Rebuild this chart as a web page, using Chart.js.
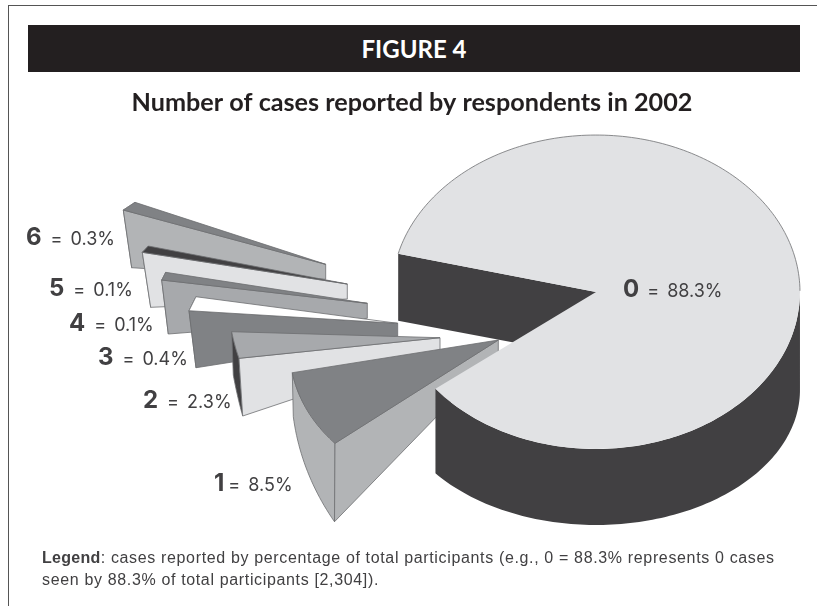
<!DOCTYPE html>
<html><head><meta charset="utf-8">
<script src="https://cdn.jsdelivr.net/npm/chart.js@4"></script>
<style>
html,body{margin:0;padding:0;background:#fff;overflow:hidden}
#stage{position:relative;width:817px;height:606px}
#chart{position:absolute;left:0;top:0;display:block}
#frame{position:absolute;left:8px;top:5px;right:0;bottom:0;border-left:1.5px solid #555;border-top:1.5px solid #555}
#banner{position:absolute;left:28px;top:25px;width:772px;height:47px;background:#231f20;color:#fff;
 font:700 24px/47px Lato,sans-serif;text-align:center}
#legend{position:absolute;left:42px;top:547px;margin:0;color:#414042;font:16px/22px "Liberation Sans",sans-serif;letter-spacing:.65px;white-space:nowrap}
#legend b{letter-spacing:.3px}
</style></head>
<body><div id="stage">
<div id="frame"></div>
<div id="banner">FIGURE 4</div>
<canvas id="chart" width="817" height="606"></canvas>
<p id="legend"><b>Legend</b>: cases reported by percentage of total participants (e.g., 0 = 88.3% represents 0 cases<br>seen by 88.3% of total participants [2,304]).</p>
</div>
<script>
// ---- data ----
const caseCounts = ['0','1','2','3','4','5','6'];
const percentOfRespondents = [88.3, 8.5, 2.3, 0.4, 0.1, 0.1, 0.3];

// ---- styles ----
const topColors  = ['#e1e2e4','#808285','#a7a9ac','#ffffff','#808285','#414042','#808285'];
const sideColors = ['#414042','#b2b4b6','#e1e2e4','#808285','#a7a9ac','#e1e2e4','#b2b4b6'];
const rimColors  = ['#414042','#b2b4b6','#414042','#808285','#a7a9ac','#e1e2e4','#b2b4b6'];
const edgeColor = '#6d6e71';

// ---- 3-D view: how the library's flat arcs are projected on the page ----
const pieShiftX = 184;      // the pie sits right of the chart's centre
const tiltX = 204 / 157;    // horizontal stretch of the top face
const mainWall = {inner:67, tip:66, rimMean:98, rimSquash:22};
// exploded slices: tip relative to the pie centre, rim ends relative to the tip, wall heights
const explodedView = [
  null,
  {tip:[-97.7,48],   s:[-163.3,103.3], e:[-206,32.7],    dt:[0,13],   ds:[-0.5,78.4], de:[1,44]},
  {tip:[-156,45.7],  s:[-201,20.6],    e:[-208.3,-6],    dt:[0,12.3], ds:[3.7,57.7],  de:[1.6,43.3]},
  {tip:[-198.3,31.3],s:[-208.7,-12.6], e:[-201.7,-26.6], dt:[0,12.7], ds:[7,57],      de:[7,57]},
  {tip:[-228.7,11.3],s:[-205.6,-23.3], e:[-201.6,-31],   dt:[0,15],   ds:[6.6,54],    de:[6.6,54]},
  {tip:[-248.7,-8],  s:[-205,-31.7],   e:[-199,-38],     dt:[0,15],   ds:[8.4,55],    de:[8.4,55]},
  {tip:[-270.3,-27.7],s:[-202.4,-54.3],e:[-190.7,-62],   dt:[0,15],   ds:[8.4,57.7],  de:[8.4,57.7]}
];
const labelAnchors = [[623,290],[214,484],[143,401],[98,358],[69,324],[49,289],[26,238]];
const labelGaps = [8,4,9,9,9,9,9];

function viewOf(i, arc){
  const cx = arc.x + pieShiftX, cy = arc.y, R = arc.outerRadius;
  const th0 = arc.startAngle, th1 = arc.endAngle;
  if (i === 0) return {T:[cx,cy], a:R*tiltX, b:0, c:0, d:R, th0, th1, main:true,
    dt:[0,mainWall.tip], ds:[0,mainWall.inner], de:[0,mainWall.inner]};
  const v = explodedView[i];
  const c0=Math.cos(th0), s0=Math.sin(th0), c1=Math.cos(th1), s1=Math.sin(th1);
  const det = c0*s1 - c1*s0;
  return {T:[cx+v.tip[0], cy+v.tip[1]],
    a:(v.s[0]*s1 - v.e[0]*s0)/det, b:(c0*v.e[0] - c1*v.s[0])/det,
    c:(v.s[1]*s1 - v.e[1]*s0)/det, d:(c0*v.e[1] - c1*v.s[1])/det,
    th0, th1, dt:v.dt, ds:v.ds, de:v.de};
}
function rimPoints(w, n){
  const pts = [];
  for (let k=0;k<=n;k++){
    const f=k/n, t=w.th0+(w.th1-w.th0)*f, u=Math.cos(t), y=Math.sin(t);
    const drop = w.main ? [0, mainWall.rimMean - mainWall.rimSquash*y]
      : [w.ds[0]+(w.de[0]-w.ds[0])*f, w.ds[1]+(w.de[1]-w.ds[1])*f];
    const p=[w.T[0]+w.a*u+w.b*y, w.T[1]+w.c*u+w.d*y];
    pts.push({t, p, q:[p[0]+drop[0],p[1]+drop[1]]});
  }
  return pts;
}
function poly(ctx, list, fill, stroke){
  ctx.beginPath();
  list.forEach((p,i)=> i?ctx.lineTo(p[0],p[1]):ctx.moveTo(p[0],p[1]));
  ctx.closePath();
  if (fill){ctx.fillStyle=fill;ctx.fill();}
  if (stroke){ctx.strokeStyle=stroke;ctx.lineWidth=0.8;ctx.stroke();}
}
const pie3d = {
  id:'pie3d',
  beforeDatasetsDraw(chart){
    const ctx = chart.ctx, arcs = chart.getDatasetMeta(0).data;
    [6,5,4,3,2,1,0].forEach(i=>{
      const arc = arcs[i], w = viewOf(i, arc), main = i===0;
      const rim = rimPoints(w, main?240:24);
      const S = rim[0];
      const Tb=[w.T[0]+w.dt[0], w.T[1]+w.dt[1]];
      // outer rim wall (for the big slice only the part that faces the viewer)
      const wall = main ? rim.filter(r=>Math.sin(r.t)>=-0.02) : rim;
      ctx.beginPath();
      for (let k=0;k<wall.length-1;k++){
        const a=wall[k], b=wall[k+1];
        if (Math.abs(b.t-a.t)>0.5) continue;
        ctx.moveTo(a.p[0],a.p[1]);ctx.lineTo(b.p[0],b.p[1]);ctx.lineTo(b.q[0],b.q[1]);ctx.lineTo(a.q[0],a.q[1]);ctx.closePath();
      }
      ctx.fillStyle=rimColors[i];ctx.fill();
      if(!main){
        poly(ctx,[...rim.map(r=>r.p),...rim.slice().reverse().map(r=>r.q)],null,edgeColor);
        // the side wall facing the viewer
        poly(ctx,[S.p,w.T,Tb,[S.p[0]+w.ds[0],S.p[1]+w.ds[1]]],sideColors[i],edgeColor);
      } else {
        poly(ctx,[S.p,w.T,Tb,[S.p[0]+w.ds[0],S.p[1]+w.ds[1]]],sideColors[i],null);
      }
      // top face: the library's own arc element, projected
      ctx.save();
      const R=arc.outerRadius;
      ctx.transform(w.a/R,w.c/R,w.b/R,w.d/R,w.T[0],w.T[1]);
      ctx.translate(-arc.x,-arc.y);
      arc.draw(ctx);
      ctx.restore();
      if(main){
        const back=rim.filter(r=>Math.sin(r.t)<0);
        ctx.beginPath();back.forEach((r,k)=>k?ctx.lineTo(r.p[0],r.p[1]):ctx.moveTo(r.p[0],r.p[1]));
        ctx.strokeStyle=edgeColor;ctx.lineWidth=0.8;ctx.stroke();
      } else poly(ctx,[w.T,...rim.map(r=>r.p)],null,edgeColor);
    });
    return false;
  },
  afterDraw(chart){
    const ctx=chart.ctx;
    ctx.save();
    ctx.textBaseline='middle';ctx.textAlign='left';ctx.fillStyle='#414042';
    caseCounts.forEach((c,i)=>{
      const [x,y]=labelAnchors[i];
      ctx.wordSpacing='0px';
      ctx.font='700 24px Inter, sans-serif';
      ctx.fillText(c,x,y);
      const w=ctx.measureText(c).width;
      ctx.font='400 18px Inter, sans-serif';
      ctx.wordSpacing='3px';
      ctx.fillText('= '+percentOfRespondents[i].toFixed(1)+'%',x+w+labelGaps[i],y+1.5);
    });
    ctx.restore();
  }
};
new Chart(document.getElementById('chart'),{
  type:'pie',
  data:{labels:caseCounts,datasets:[{data:percentOfRespondents,backgroundColor:topColors,borderWidth:0}]},
  options:{
    responsive:false,animation:false,
    rotation:284.1,circumference:348.6,
    layout:{padding:{left:7,right:0,top:88,bottom:157}},
    plugins:{
      legend:{display:false},tooltip:{enabled:false},
      title:{display:true,text:'Number of cases reported by respondents in 2002',color:'#231f20',
        font:{family:'Lato',size:25.2,weight:'700',lineHeight:1.2},padding:{top:0,bottom:16.8}}
    }
  },
  plugins:[pie3d]
});
</script>
</body></html>
